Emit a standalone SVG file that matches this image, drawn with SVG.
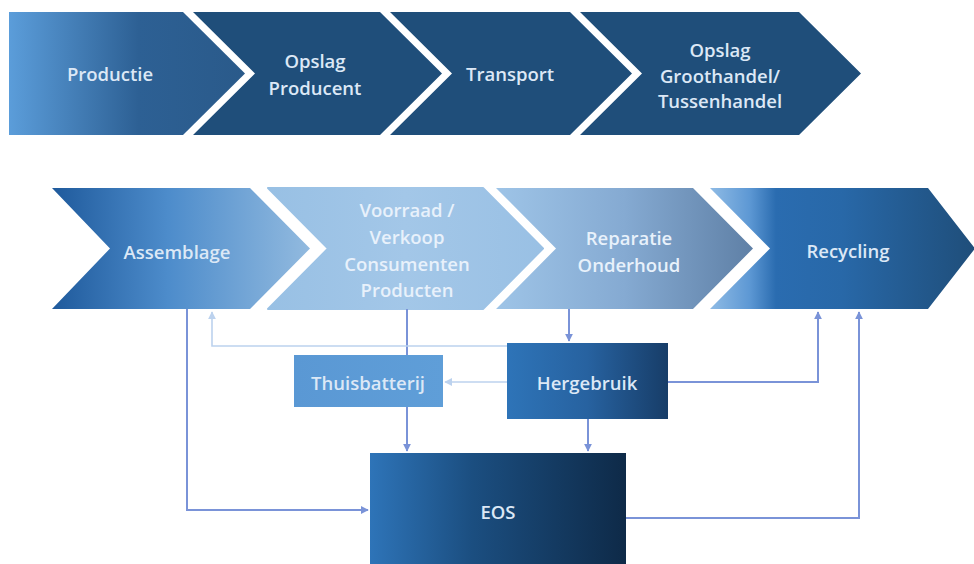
<svg xmlns="http://www.w3.org/2000/svg" width="974" height="564" viewBox="0 0 974 564">
<defs>
<style>
.lbl{font-family:"Open Sans","Liberation Sans",sans-serif;font-size:18.5px;font-weight:600;fill:#dce8f6;text-anchor:middle}
.lbl2{font-family:"Open Sans","Liberation Sans",sans-serif;font-size:18.5px;font-weight:600;fill:#e8f1fb;text-anchor:middle}
.con{fill:none;stroke:#7a93d8;stroke-width:2}
.conl{fill:none;stroke:#bcd2ee;stroke-width:1.6}
</style>
<linearGradient id="gC1" x1="9" y1="0" x2="245" y2="0" gradientUnits="userSpaceOnUse">
<stop offset="0" stop-color="#5b9dda"/><stop offset="0.55" stop-color="#2d6094"/><stop offset="1" stop-color="#2a5a8a"/>
</linearGradient>
<linearGradient id="gAs" x1="52" y1="0" x2="310" y2="0" gradientUnits="userSpaceOnUse">
<stop offset="0" stop-color="#1f5a9c"/><stop offset="0.45" stop-color="#4d8ccb"/><stop offset="1" stop-color="#92badf"/>
</linearGradient>
<linearGradient id="gVo" x1="268" y1="0" x2="543" y2="0" gradientUnits="userSpaceOnUse">
<stop offset="0" stop-color="#98c0e4"/><stop offset="0.5" stop-color="#a3c7e8"/><stop offset="1" stop-color="#99c0e4"/>
</linearGradient>
<linearGradient id="gRe" x1="496" y1="0" x2="753" y2="0" gradientUnits="userSpaceOnUse">
<stop offset="0" stop-color="#9ec4e7"/><stop offset="0.5" stop-color="#85aad2"/><stop offset="1" stop-color="#5f80a6"/>
</linearGradient>
<linearGradient id="gRc" x1="710" y1="0" x2="974" y2="0" gradientUnits="userSpaceOnUse">
<stop offset="0" stop-color="#8fbbe5"/><stop offset="0.15" stop-color="#5d98d4"/><stop offset="0.25" stop-color="#2a6cb0"/><stop offset="0.5" stop-color="#2868a8"/><stop offset="1" stop-color="#1f4e7a"/>
</linearGradient>
<linearGradient id="gTh" x1="294" y1="0" x2="443" y2="0" gradientUnits="userSpaceOnUse">
<stop offset="0" stop-color="#5a98d4"/><stop offset="1" stop-color="#5f9ed8"/>
</linearGradient>
<linearGradient id="gHe" x1="507" y1="0" x2="668" y2="0" gradientUnits="userSpaceOnUse">
<stop offset="0" stop-color="#2e74b8"/><stop offset="0.5" stop-color="#2762a0"/><stop offset="1" stop-color="#173d68"/>
</linearGradient>
<linearGradient id="gEo" x1="370" y1="0" x2="626" y2="0" gradientUnits="userSpaceOnUse">
<stop offset="0" stop-color="#2e74b8"/><stop offset="0.4" stop-color="#1b4e80"/><stop offset="1" stop-color="#0e2a48"/>
</linearGradient>
<marker id="ah" viewBox="0 0 10 10" refX="9" refY="5" markerWidth="4" markerHeight="4" orient="auto" markerUnits="strokeWidth">
<path d="M0,0 L10,5 L0,10 Z" fill="#7a93d8"/>
</marker>
<marker id="ahl" viewBox="0 0 10 10" refX="9" refY="5" markerWidth="5" markerHeight="5" orient="auto" markerUnits="strokeWidth">
<path d="M0,0 L10,5 L0,10 Z" fill="#bcd2ee"/>
</marker>
</defs>
<rect width="974" height="564" fill="#ffffff"/>

<g id="productie">
<path d="M9,12 L183,12 L245,73.5 L183,135 L9,135 Z" fill="url(#gC1)"/>
<text class="lbl" x="110" y="81">Productie</text>
</g>
<g id="opslag-producent">
<path d="M193,12 L380,12 L442,73.5 L380,135 L193,135 L255,73.5 Z" fill="#1f4e7a"/>
<text class="lbl" x="315" y="68">Opslag</text>
<text class="lbl" x="315" y="95">Producent</text>
</g>
<g id="transport">
<path d="M390,12 L570,12 L632,73.5 L570,135 L390,135 L452,73.5 Z" fill="#1f4e7a"/>
<text class="lbl" x="510" y="81">Transport</text>
</g>
<g id="opslag-groothandel">
<path d="M580,12 L799,12 L861,73.5 L799,135 L580,135 L642,73.5 Z" fill="#1f4e7a"/>
<text class="lbl" x="720" y="57">Opslag</text>
<text class="lbl" x="720" y="83">Groothandel/</text>
<text class="lbl" x="720" y="108">Tussenhandel</text>
</g>

<g id="assemblage">
<path d="M52,188 L250,188 L310,248.5 L250,309 L52,309 L110,248.5 Z" fill="url(#gAs)"/>
<text class="lbl" x="177" y="259">Assemblage</text>
</g>
<g id="voorraad">
<path d="M268,188 L483,188 L543,248.5 L483,309 L268,309 L328,248.5 Z" fill="url(#gVo)" stroke="url(#gVo)" stroke-width="2" stroke-linejoin="round"/>
<text class="lbl2" x="407" y="217">Voorraad /</text>
<text class="lbl2" x="407" y="244">Verkoop</text>
<text class="lbl2" x="407" y="271">Consumenten</text>
<text class="lbl2" x="407" y="297">Producten</text>
</g>
<g id="reparatie">
<path d="M496,188 L693,188 L753,248.5 L693,309 L496,309 L556,248.5 Z" fill="url(#gRe)"/>
<text class="lbl2" x="629" y="245">Reparatie</text>
<text class="lbl2" x="629" y="272">Onderhoud</text>
</g>
<g id="recycling">
<path d="M710,188 L928,188 L975,248.5 L928,309 L710,309 L770,248.5 Z" fill="url(#gRc)"/>
<text class="lbl" x="848" y="258">Recycling</text>
</g>

<g id="connectors">
<path class="con" d="M187,309 V510 H368" marker-end="url(#ah)"/>
<path class="con" d="M407,309 V355"/>
<path class="con" d="M407,407 V451" marker-end="url(#ah)"/>
<path class="con" d="M569,309 V341" marker-end="url(#ah)"/>
<path class="conl" d="M507,346 H212 V312" marker-end="url(#ahl)"/>
<path class="conl" d="M507,382 H445" marker-end="url(#ahl)"/>
<path class="con" d="M668,382 H818 V312" marker-end="url(#ah)"/>
<path class="con" d="M588,419 V451" marker-end="url(#ah)"/>
<path class="con" d="M626,518 H859 V312" marker-end="url(#ah)"/>
</g>

<g id="thuisbatterij">
<rect x="294" y="355" width="149" height="52" fill="url(#gTh)"/>
<text class="lbl" x="368" y="390">Thuisbatterij</text>
</g>
<g id="hergebruik">
<rect x="507" y="343" width="161" height="76" fill="url(#gHe)"/>
<text class="lbl" x="587" y="390">Hergebruik</text>
</g>
<g id="eos">
<rect x="370" y="453" width="256" height="115" fill="url(#gEo)"/>
<text class="lbl" x="498" y="519">EOS</text>
</g>
</svg>
